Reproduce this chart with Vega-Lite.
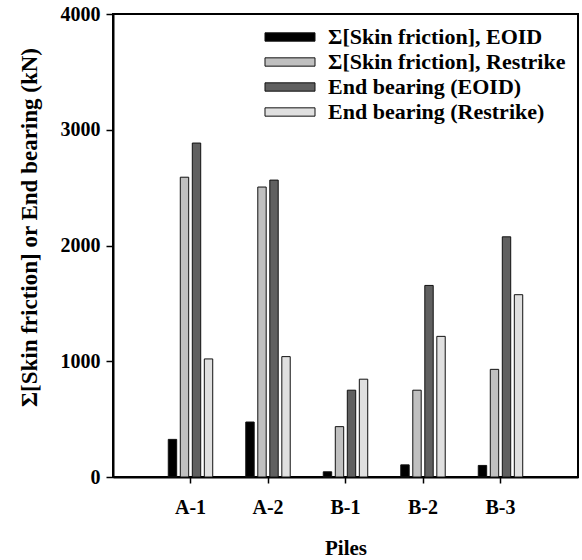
{
  "$schema": "https://vega.github.io/schema/vega-lite/v6.json",
  "autosize": {"type": "none"},
  "padding": {"left": 113, "top": 14, "right": 4, "bottom": 83},
  "width": 465,
  "height": 463,
  "background": "white",
  "data": {
    "values": [
      {"pile": "A-1", "series": "Σ[Skin friction], EOID", "value": 325},
      {"pile": "A-1", "series": "Σ[Skin friction], Restrike", "value": 2590},
      {"pile": "A-1", "series": "End bearing (EOID)", "value": 2885},
      {"pile": "A-1", "series": "End bearing (Restrike)", "value": 1020},
      {"pile": "A-2", "series": "Σ[Skin friction], EOID", "value": 475},
      {"pile": "A-2", "series": "Σ[Skin friction], Restrike", "value": 2505},
      {"pile": "A-2", "series": "End bearing (EOID)", "value": 2565},
      {"pile": "A-2", "series": "End bearing (Restrike)", "value": 1040},
      {"pile": "B-1", "series": "Σ[Skin friction], EOID", "value": 45},
      {"pile": "B-1", "series": "Σ[Skin friction], Restrike", "value": 435},
      {"pile": "B-1", "series": "End bearing (EOID)", "value": 750},
      {"pile": "B-1", "series": "End bearing (Restrike)", "value": 845},
      {"pile": "B-2", "series": "Σ[Skin friction], EOID", "value": 105},
      {"pile": "B-2", "series": "Σ[Skin friction], Restrike", "value": 750},
      {"pile": "B-2", "series": "End bearing (EOID)", "value": 1655},
      {"pile": "B-2", "series": "End bearing (Restrike)", "value": 1215},
      {"pile": "B-3", "series": "Σ[Skin friction], EOID", "value": 100},
      {"pile": "B-3", "series": "Σ[Skin friction], Restrike", "value": 930},
      {"pile": "B-3", "series": "End bearing (EOID)", "value": 2075},
      {"pile": "B-3", "series": "End bearing (Restrike)", "value": 1575}
    ]
  },
  "mark": {"type": "bar", "stroke": "#111111", "strokeWidth": 1},
  "encoding": {
    "x": {
      "field": "pile",
      "type": "nominal",
      "sort": ["A-1", "A-2", "B-1", "B-2", "B-3"],
      "scale": {"paddingInner": 0.38, "paddingOuter": 0.69},
      "axis": {
        "title": "Piles",
        "labelAngle": 0,
        "tickSize": 6,
        "labelPadding": 14,
        "titlePadding": 20
      }
    },
    "xOffset": {
      "field": "series",
      "type": "nominal",
      "sort": ["Σ[Skin friction], EOID", "Σ[Skin friction], Restrike", "End bearing (EOID)", "End bearing (Restrike)"],
      "scale": {"paddingInner": 0.3, "paddingOuter": 0.15}
    },
    "y": {
      "field": "value",
      "type": "quantitative",
      "scale": {"domain": [0, 4000], "nice": false},
      "axis": {
        "title": "Σ[Skin friction] or End bearing (kN)",
        "titleFontSize": 23,
        "titleY": 213,
        "values": [0, 1000, 2000, 3000, 4000],
        "format": "d",
        "tickSize": 7,
        "labelPadding": 6,
        "titlePadding": 19,
        "grid": false
      }
    },
    "color": {
      "field": "series",
      "type": "nominal",
      "scale": {
        "domain": ["Σ[Skin friction], EOID", "Σ[Skin friction], Restrike", "End bearing (EOID)", "End bearing (Restrike)"],
        "range": ["#000000", "#c0c0c0", "#606060", "#e0e0e0"]
      },
      "legend": {
        "title": null,
        "orient": "none",
        "legendX": 166,
        "legendY": 12,
        "symbolType": "M-3,-0.5H3V0.5H-3Z",
        "symbolSize": 278,
        "symbolStrokeColor": "#111111",
        "symbolStrokeWidth": 1,
        "symbolOpacity": 1,
        "labelOffset": 27,
        "rowPadding": 3,
        "labelFont": "Liberation Serif",
        "labelFontWeight": "bold",
        "labelFontSize": 22,
        "labelColor": "black",
        "labelLimit": 400
      }
    }
  },
  "config": {
    "view": {"stroke": "black", "strokeWidth": 2},
    "axis": {
      "domainColor": "black",
      "domainWidth": 2,
      "tickColor": "black",
      "tickWidth": 1.5,
      "labelFont": "Liberation Serif",
      "labelFontWeight": "bold",
      "labelFontSize": 20,
      "labelColor": "black",
      "titleFont": "Liberation Serif",
      "titleFontWeight": "bold",
      "titleFontSize": 21,
      "titleColor": "black"
    }
  }
}
